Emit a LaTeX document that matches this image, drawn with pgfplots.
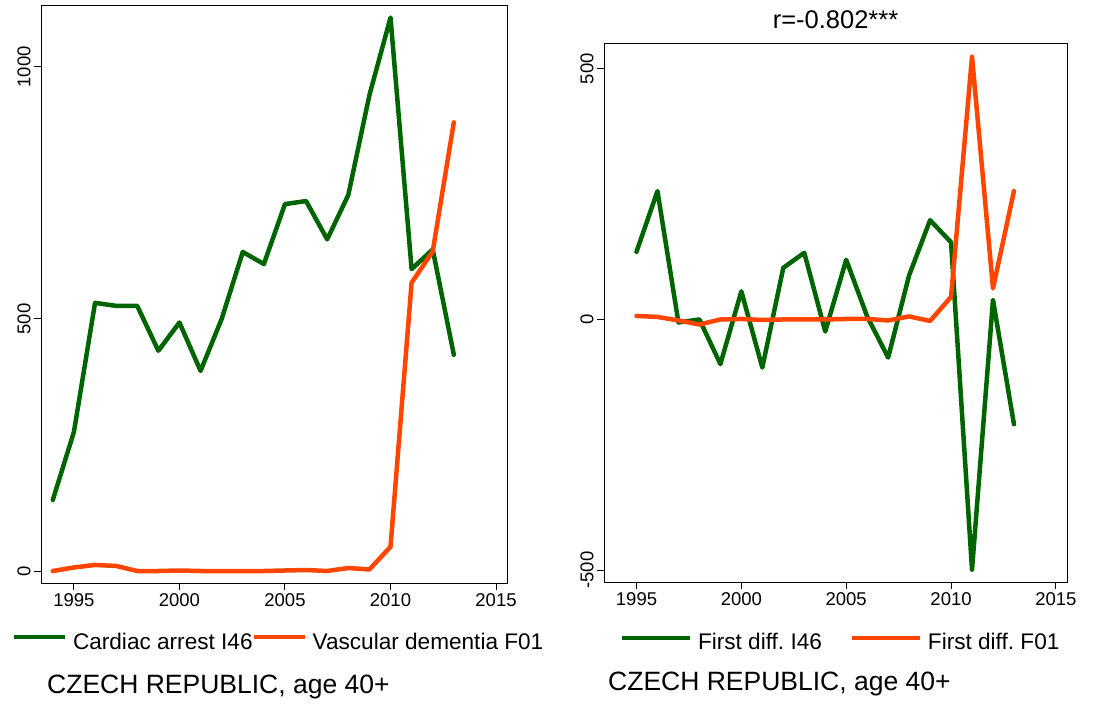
\documentclass[border=0pt]{standalone}
\usepackage{fontspec}
\setmainfont{Liberation Sans}
\usepackage{pgfplots}
\usepackage{pgfplotstable}
\pgfplotsset{compat=1.18}
\definecolor{sgreen}{HTML}{006400}
\definecolor{sorange}{HTML}{FF4500}
\frenchspacing

\pgfplotstableread{
year cardiac dementia
1994 141 0
1995 276 7
1996 532 12
1997 526 10
1998 526 0
1999 437 0
2000 493 1
2001 397 0
2002 500 0
2003 633 0
2004 609 0
2005 728 1
2006 734 2
2007 658 0
2008 746 6
2009 944 3
2010 1098 48
2011 599 572
2012 638 634
2013 429 890
}\levels

\pgfplotstableread{
year dI dF
1995 135 7
1996 256 5
1997 -6 -2
1998 0 -10
1999 -89 0
2000 56 1
2001 -96 -1
2002 103 0
2003 133 0
2004 -24 0
2005 119 1
2006 6 1
2007 -76 -2
2008 88 6
2009 198 -3
2010 154 45
2011 -499 524
2012 39 62
2013 -209 256
}\diffs

\pgfplotsset{
  mystyle/.style={
    scale only axis,
    axis line style={line width=1pt},
    tick style={line width=1pt, black},
    major tick length=7pt,
    tick align=outside,
    tick pos=left,
    xtick={1995,2000,2005,2010,2015},
    xticklabels={1995,2000,2005,2010,2015},
    ticklabel style={font=\fontsize{18.5}{20}\selectfont},
    yticklabel style={rotate=90, anchor=south},
    legend columns=2,
    legend style={draw=none, fill=none, inner sep=0pt, outer sep=0pt,
      font=\fontsize{22.6}{26}\selectfont,
      nodes={inner sep=0pt},
      /tikz/every odd column/.append style={column sep=6pt}},
    every axis plot/.append style={line width=4.5pt, line join=round, line cap=round},
  }
}

\begin{document}
\begin{tikzpicture}
\path[use as bounding box] (0pt,0pt) rectangle (1094pt,704pt);

\begin{axis}[mystyle,
  at={(41pt,121pt)}, anchor=south west,
  width=466pt, height=577pt,
  xmin=1993.44, xmax=2015.52,
  ymin=-23.8, ymax=1121,
  ytick={0,500,1000}, yticklabels={0,500,1000},
  legend image code/.code={\draw[#1, line width=4pt, line cap=butt] (0pt,5pt) -- (51pt,5pt);},
  legend style={at={(axis description cs:-0.0622,-0.1031)}, anchor=west,
    /tikz/every even column/.append style={column sep=-1pt}},
]
\addplot[sgreen] table[x=year, y=cardiac] {\levels};
\addlegendentry{Cardiac arrest I46}
\addplot[sorange] table[x=year, y=dementia] {\levels};
\addlegendentry{Vascular dementia F01}
\end{axis}

\begin{axis}[mystyle,
  at={(604pt,122pt)}, anchor=south west,
  width=463pt, height=538pt,
  xmin=1993.45, xmax=2015.53,
  ymin=-523.7, ymax=549.5,
  ytick={-500,0,500}, yticklabels={-500,0,500},
  title={r=-0.802***},
  title style={font=\fontsize{25.5}{28}\selectfont, at={(0.5,1)}, anchor=base, yshift=9pt, inner sep=0pt},
  legend image code/.code={\draw[#1, line width=4pt, line cap=butt] (0pt,5pt) -- (68pt,5pt);},
  legend style={at={(axis description cs:0.0346,-0.1125)}, anchor=west,
    /tikz/every even column/.append style={column sep=28pt}},
]
\addplot[sgreen] table[x=year, y=dI] {\diffs};
\addlegendentry{First diff. I46}
\addplot[sorange] table[x=year, y=dF] {\diffs};
\addlegendentry{First diff. F01}
\end{axis}

\node[anchor=base west, inner sep=0pt, font=\fontsize{26.5}{30}\selectfont] at (47pt,11pt) {CZECH REPUBLIC, age 40+};
\node[anchor=base west, inner sep=0pt, font=\fontsize{26.5}{30}\selectfont] at (608pt,14pt) {CZECH REPUBLIC, age 40+};
\end{tikzpicture}
\end{document}
